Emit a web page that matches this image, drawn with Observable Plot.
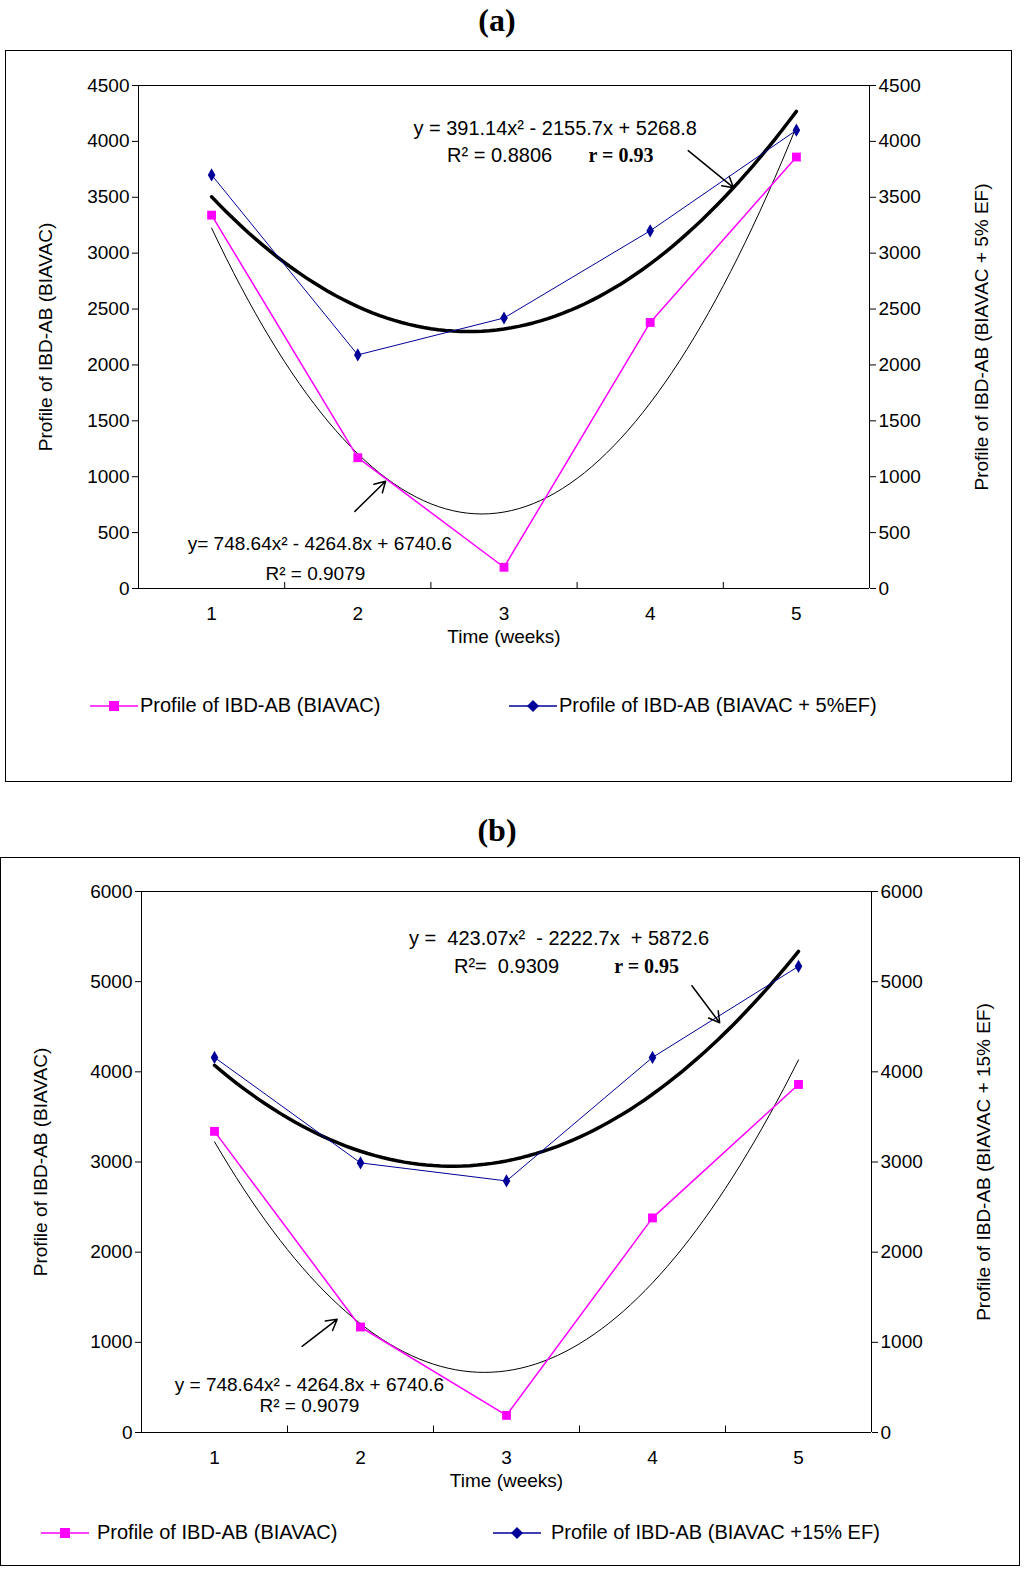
<!DOCTYPE html>
<html><head><meta charset="utf-8">
<script src="https://cdn.jsdelivr.net/npm/d3@7"></script>
<script src="https://cdn.jsdelivr.net/npm/@observablehq/plot@0.6"></script>
<style>
body{margin:0;background:#fff;font-family:"Liberation Sans",Arial,sans-serif;}
.box{position:absolute;border:1.5px solid #000;box-sizing:border-box;}
.title{position:absolute;font-family:"Liberation Serif",serif;font-weight:bold;font-size:32px;line-height:36px;width:100px;text-align:center;}
.leg{position:absolute;font-size:20px;display:flex;align-items:center;white-space:nowrap;}
.plot{position:absolute;left:0;top:0;}
</style></head><body>
<div class="title" style="left:447px;top:2px">(a)</div>
<div class="box" id="A" style="left:5px;top:50px;width:1007px;height:732px"></div>
<div class="title" style="left:447px;top:812px">(b)</div>
<div class="box" id="B" style="left:0px;top:857px;width:1020px;height:709px"></div>
<script>
const weeks = [1, 2, 3, 4, 5];
const pinkA = [3340, 1170, 190, 2380, 3860];
const blueA = [3700, 2090, 2420, 3200, 4100];
const pinkB = [3340, 1170, 190, 2380, 3860];
const blueB = [4160, 2990, 2790, 4160, 5170];
const fitPink = [748.64, -4264.8, 6740.6];
const fitA = [391.14, -2155.7, 5268.8];
const fitB = [423.07, -2222.7, 5872.6];
const PINK = "#ff00ff", BLUE = "#000099";

function curve(c){const out=[];for(let i=0;i<=80;i++){const x=1+4*i/80;out.push({x,y:c[0]*x*x+c[1]*x+c[2]});}return out;}
function pts(arr){return weeks.map((w,i)=>({x:w,y:arr[i]}));}

function make(o){
  const ticks=d3.range(0,o.ymax+1,o.step);
  const tickLen=o.ymax*0.012;
  const f=d3.format("d");
  return Plot.plot({
    width:o.width,height:o.height,marginLeft:o.ml,marginRight:o.mr,marginTop:o.mt,marginBottom:o.mb,
    style:{fontFamily:"Liberation Sans, Arial, sans-serif",fontSize:"19px",color:"#000",background:"transparent"},
    x:{domain:[0.5,5.5]},
    y:{domain:[0,o.ymax]},
    marks:[
      Plot.axisX({ticks:weeks,tickFormat:f,tickSize:0,tickPadding:18,label:"Time (weeks)",labelAnchor:"center",labelArrow:"none",labelOffset:54}),
      Plot.axisY({ticks:ticks,tickFormat:f,anchor:"left",tickSize:6,label:o.ll,labelAnchor:"center",labelArrow:"none",labelOffset:o.llo}),
      Plot.axisY({ticks:ticks,tickFormat:f,anchor:"right",tickSize:6,label:o.rl,labelAnchor:"center",labelArrow:"none",labelOffset:o.rlo}),
      Plot.ruleY([0,o.ymax],{stroke:"#000"}),
      Plot.ruleX([0.5,5.5],{stroke:"#000"}),
      Plot.ruleX([1.5,2.5,3.5,4.5],{y1:0,y2:tickLen,stroke:"#000"}),
      Plot.line(curve(fitPink),{x:"x",y:"y",stroke:"#000",strokeWidth:1}),
      Plot.line(curve(o.fit),{x:"x",y:"y",stroke:"#000",strokeWidth:3.5}),
      Plot.line(pts(o.pink),{x:"x",y:"y",stroke:PINK,strokeWidth:1.5}),
      Plot.dot(pts(o.pink),{x:"x",y:"y",fill:PINK,symbol:"square",r:5}),
      Plot.line(pts(o.blue),{x:"x",y:"y",stroke:BLUE,strokeWidth:1}),
      Plot.dot(pts(o.blue),{x:"x",y:"y",fill:BLUE,symbol:"diamond",r:4}),
      Plot.text([o.eq1],{x:o.eq1x,y:o.eq1y,text:d=>d,fontSize:20}),
      Plot.text([o.r1],{x:o.r1x,y:o.r1y,text:d=>d,fontSize:20}),
      Plot.text([o.rb],{x:o.rbx,y:o.r1y,text:d=>d,fontSize:20,fontWeight:"bold",fontFamily:"Liberation Serif, serif"}),
      Plot.text([o.eq2],{x:o.eq2x,y:o.eq2y,text:d=>d,fontSize:19}),
      Plot.text([o.r2],{x:o.r2x,y:o.r2y,text:d=>d,fontSize:19}),
      Plot.arrow([o.a1],{x1:d=>d[0],y1:d=>d[1],x2:d=>d[2],y2:d=>d[3],stroke:"#000",strokeWidth:1.5,headLength:12}),
      Plot.arrow([o.a2],{x1:d=>d[0],y1:d=>d[1],x2:d=>d[2],y2:d=>d[3],stroke:"#000",strokeWidth:1.5,headLength:12})
    ]
  });
}
function legend(parent,items){
  for(const it of items){
    const d=document.createElement("div");d.className="leg";
    d.style.left=it.left+"px";d.style.top=it.top+"px";
    const sym=it.sq?`<rect x="19" y="5" width="10" height="10" fill="${it.c}"/>`:`<path d="M24 4 L30 10 L24 16 L18 10Z" fill="${it.c}"/>`;
    d.innerHTML=`<svg width="${it.w}" height="20"><line x1="0" y1="10" x2="48" y2="10" stroke="${it.c}" stroke-width="1.5"/>${sym}</svg><span>${it.t}</span>`;
    parent.appendChild(d);
  }
}
const A=document.getElementById("A");
const pa=make({width:1005,height:600,ml:132,mr:142,mt:34,mb:63,ymax:4500,step:500,
  ll:"Profile of IBD-AB (BIAVAC)",llo:100,rl:"Profile of IBD-AB (BIAVAC + 5% EF)",rlo:118,
  pink:pinkA,blue:blueA,fit:fitA,
  eq1:"y = 391.14x² - 2155.7x + 5268.8",eq1x:3.35,eq1y:4115,
  r1:"R² = 0.8806",r1x:2.97,r1y:3870,rb:"r = 0.93",rbx:3.8,
  eq2:"y= 748.64x² - 4264.8x + 6740.6",eq2x:1.74,eq2y:395,r2:"R² = 0.9079",r2x:1.71,r2y:135,
  a1:[4.26,3917,4.57,3586],a2:[1.98,690,2.19,960]});
pa.classList.add("plot");A.appendChild(pa);
legend(A,[{left:84,top:643,w:50,c:PINK,sq:true,t:"Profile of IBD-AB (BIAVAC)"},
  {left:503,top:643,w:50,c:BLUE,sq:false,t:"Profile of IBD-AB (BIAVAC + 5%EF)"}]);
const B=document.getElementById("B");
const pb=make({width:1018,height:640,ml:140,mr:148,mt:33,mb:66,ymax:6000,step:1000,
  ll:"Profile of IBD-AB (BIAVAC)",llo:108,rl:"Profile of IBD-AB (BIAVAC + 15% EF)",rlo:118,
  pink:pinkB,blue:blueB,fit:fitB,
  eq1:"y =  423.07x²  - 2222.7x  + 5872.6",eq1x:3.36,eq1y:5477,
  r1:"R²=  0.9309",r1x:3.0,r1y:5167,rb:"r = 0.95",rbx:3.96,
  eq2:"y = 748.64x² - 4264.8x + 6740.6",eq2x:1.65,eq2y:533,r2:"R² = 0.9079",r2x:1.65,r2y:290,
  a1:[4.27,4955,4.46,4544],a2:[1.6,956,1.84,1255]});
pb.classList.add("plot");B.appendChild(pb);
legend(B,[{left:40,top:663,w:56,c:PINK,sq:true,t:"Profile of IBD-AB (BIAVAC)"},
  {left:492,top:663,w:58,c:BLUE,sq:false,t:"Profile of IBD-AB (BIAVAC +15% EF)"}]);
</script></body></html>
